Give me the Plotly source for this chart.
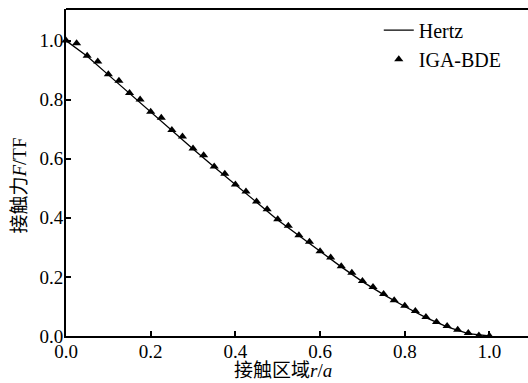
import plotly.graph_objects as go

# IGA-BDE results (r/a, F/TF)
iga_r = [i * 0.025 for i in range(41)]
iga_f = [1.000, 0.991, 0.949, 0.929, 0.886, 0.864, 0.823, 0.801, 0.759, 0.739,
         0.697, 0.675, 0.635, 0.612, 0.574, 0.549, 0.513, 0.489, 0.455, 0.429,
         0.395, 0.373, 0.341, 0.319, 0.287, 0.266, 0.236, 0.214, 0.186, 0.166,
         0.142, 0.121, 0.102, 0.085, 0.064, 0.047, 0.034, 0.021, 0.010, 0.002,
         0.000]

# Hertz analytic curve
hertz_r = [0.00, 0.05, 0.10, 0.15, 0.20, 0.25, 0.30, 0.35, 0.40, 0.45, 0.50,
           0.55, 0.60, 0.65, 0.70, 0.75, 0.80, 0.85, 0.90, 0.95, 1.00]
hertz_f = [1.000, 0.947, 0.884, 0.821, 0.757, 0.695, 0.633, 0.572, 0.511, 0.453,
           0.393, 0.339, 0.285, 0.234, 0.184, 0.140, 0.100, 0.062, 0.031, 0.008,
           0.000]

tick_vals = [0.0, 0.2, 0.4, 0.6, 0.8, 1.0]
tick_text = ["0.0", "0.2", "0.4", "0.6", "0.8", "1.0"]

SERIF = "Liberation Serif"
FONT = "Liberation Serif, Noto Sans CJK SC"

fig = go.Figure()
fig.add_trace(go.Scatter(x=hertz_r, y=hertz_f, mode="lines", name="Hertz",
                         line=dict(color="black", width=1.3), cliponaxis=False))
fig.add_trace(go.Scatter(x=iga_r, y=iga_f, mode="markers", name="IGA-BDE",
                         marker=dict(symbol="triangle-up", size=8, color="black"),
                         cliponaxis=False))

fig.update_layout(
    width=528, height=383,
    margin=dict(l=66, r=0, t=9, b=47),
    paper_bgcolor="white", plot_bgcolor="white",
    font=dict(family=FONT, size=19, color="black"),
    showlegend=True,
    legend=dict(x=0.677, y=0.995, xanchor="left", yanchor="top",
                bgcolor="rgba(0,0,0,0)", borderwidth=0,
                font=dict(family=SERIF, size=20), tracegroupgap=0,
                itemwidth=30),
    xaxis=dict(range=[0, 1.091], tickvals=tick_vals, ticktext=tick_text,
               ticks="inside", ticklen=5, tickwidth=1.5, tickcolor="black",
               tickfont=dict(family=SERIF, size=19),
               ticklabelstandoff=-3,
               showline=True, linecolor="black", linewidth=1.8,
               showgrid=False, zeroline=False, mirror=False),
    yaxis=dict(range=[0, 1.107], tickvals=tick_vals, ticktext=tick_text,
               ticks="inside", ticklen=5, tickwidth=1.5, tickcolor="black",
               tickfont=dict(family=SERIF, size=19),
               ticklabelstandoff=-3,
               showline=True, linecolor="black", linewidth=1.8,
               showgrid=False, zeroline=False, mirror=False),
    shapes=[dict(type="line", xref="paper", yref="paper", x0=0, x1=1, y0=1, y1=1,
                 line=dict(color="black", width=1.8))],
    annotations=[
        dict(text="接触区域<i>r</i>/<i>a</i>", xref="paper", yref="paper",
             x=0.4697, y=-0.105, xanchor="center", yanchor="middle",
             showarrow=False, font=dict(family=FONT, size=19)),
        dict(text="接触力<i>F</i>/TF", xref="paper", yref="paper",
             x=-0.0996, y=0.46, xanchor="center", yanchor="middle",
             textangle=-90, showarrow=False, font=dict(family=FONT, size=19)),
    ],
)

fig.write_html("out.html")
